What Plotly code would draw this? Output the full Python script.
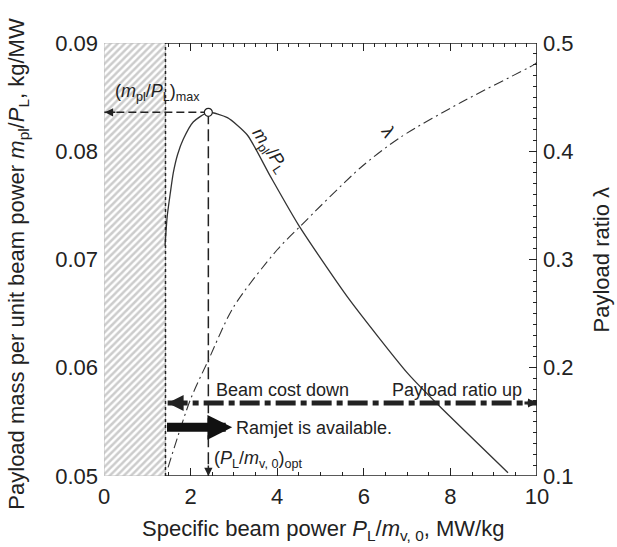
import numpy as np
import plotly.graph_objects as go

# ---- data ----
x_limit = 1.42            # lower bound of usable specific beam power (hatched region)
opt_x = 2.41              # (P_L/m_v,0)_opt
max_ratio = 0.0836        # (m_pl/P_L)_max

mpl_x = [1.41, 1.46, 1.53, 1.60, 1.70, 1.83, 2.06, 2.41, 2.85, 3.31, 3.84, 4.49, 5.63, 7.01, 7.71, 9.33]
mpl_y = [0.0713, 0.0740, 0.0761, 0.0780, 0.0797, 0.0811, 0.0827, 0.0836, 0.0831, 0.0815, 0.0777,
         0.0732, 0.0665, 0.0595, 0.0566, 0.0503]

lam_x = [1.48, 1.99, 2.41, 2.99, 4.00, 4.54, 5.93, 6.85, 8.24, 9.93, 10.0]
lam_y = [0.108, 0.170, 0.207, 0.256, 0.309, 0.331, 0.385, 0.413, 0.445, 0.480, 0.482]

x_ticks = [0, 2, 4, 6, 8, 10]
y_ticks = [0.05, 0.06, 0.07, 0.08, 0.09]
y2_ticks = [0.1, 0.2, 0.3, 0.4, 0.5]
x_range = [0, 10]
y_range = [0.05, 0.09]
y2_range = [0.1, 0.5]

FONT = "Liberation Sans, Arial, sans-serif"
TXT = "#222"

fig = go.Figure()

# hatched (infeasible) region
fig.add_trace(go.Scatter(
    x=[x_range[0], x_limit, x_limit, x_range[0], x_range[0]],
    y=[y_range[0], y_range[0], y_range[1], y_range[1], y_range[0]],
    mode="lines", fill="toself", fillcolor="white",
    fillpattern=dict(shape="/", size=5, solidity=0.5, fgcolor="#9a9a9a", bgcolor="white"),
    line=dict(color="#bdbdbd", width=1), hoverinfo="skip", showlegend=False))

# m_pl / P_L curve
fig.add_trace(go.Scatter(x=mpl_x, y=mpl_y, mode="lines",
                         line=dict(color="#333", width=1.3, shape="spline", smoothing=0.6),
                         showlegend=False))

# lambda curve (right axis)
fig.add_trace(go.Scatter(x=lam_x, y=lam_y, mode="lines", yaxis="y2",
                         line=dict(color="#333", width=1.1, shape="spline", smoothing=0.8,
                                   dash="10px,4px,2px,4px"),
                         showlegend=False))

# dashed guide lines from the maximum
fig.add_trace(go.Scatter(x=[opt_x, x_range[0]], y=[max_ratio, max_ratio], mode="lines",
                         line=dict(color="#222", width=1.5, dash="8px,4px"), showlegend=False))
fig.add_trace(go.Scatter(x=[opt_x, opt_x], y=[max_ratio, y_range[0]], mode="lines",
                         line=dict(color="#222", width=1.5, dash="12px,5px"), showlegend=False))

# double headed dash-dot arrow
arrow_y = 0.05674
fig.add_trace(go.Scatter(x=[x_limit + 0.05, x_range[1]], y=[arrow_y, arrow_y], mode="lines",
                         line=dict(color="#222", width=5, dash="20px,5px,6px,5px"),
                         showlegend=False))

# left dotted frame edge
fig.add_trace(go.Scatter(x=[x_limit, x_limit], y=y_range, mode="lines",
                         line=dict(color="#222", width=1.5, dash="dot"), showlegend=False))

# peak marker
fig.add_trace(go.Scatter(x=[opt_x], y=[max_ratio], mode="markers",
                         marker=dict(symbol="circle", size=8, color="white",
                                     line=dict(color="#222", width=1.2)),
                         showlegend=False))

# invisible trace for top axis
fig.add_trace(go.Scatter(x=[5], y=[0.07], xaxis="x2", mode="markers",
                         marker=dict(opacity=0), hoverinfo="skip", showlegend=False))

# frame lines
shapes = [
    dict(type="line", xref="x", yref="y", x0=x_limit, x1=x_range[1], y0=y_range[0], y1=y_range[0],
         line=dict(color="#222", width=1.6), layer="above"),
    dict(type="line", xref="x", yref="y", x0=x_limit, x1=x_range[1], y0=y_range[1], y1=y_range[1],
         line=dict(color="#222", width=1.6), layer="above"),
    dict(type="line", xref="x", yref="y", x0=x_range[1], x1=x_range[1], y0=y_range[0], y1=y_range[1],
         line=dict(color="#222", width=1.6), layer="above"),
]

ann_font = dict(family=FONT, size=18, color=TXT)
title_font = dict(family=FONT, size=22, color=TXT)
annotations = [
    # arrowheads
    dict(x=x_range[0] + 0.02, y=max_ratio, ax=12, ay=0, text="", showarrow=True,
         arrowhead=2, arrowwidth=1.5, arrowsize=1.1, arrowcolor="#222"),
    dict(x=opt_x, y=y_range[0], ax=0, ay=-12, text="", showarrow=True,
         arrowhead=2, arrowwidth=1.5, arrowsize=1.1, arrowcolor="#222"),
    dict(x=x_limit + 0.05, y=arrow_y, ax=16, ay=0, text="", showarrow=True,
         arrowhead=2, arrowwidth=4, arrowsize=0.8, arrowcolor="#222"),
    dict(x=x_range[1], y=arrow_y, ax=-14, ay=0, text="", showarrow=True,
         arrowhead=2, arrowwidth=3, arrowsize=0.6, arrowcolor="#222"),
    # ramjet arrow
    dict(x=2.96, y=0.0545, ax=x_limit, ay=0.0545, axref="x", ayref="y", text="", showarrow=True,
         arrowhead=2, arrowwidth=9, arrowsize=0.55, arrowcolor="#111"),
    # texts
    dict(x=0.21, y=0.0854, text="(<i>m</i><sub>pl</sub>/<i>P</i><sub>L</sub>)<sub>max</sub>",
         showarrow=False, xanchor="left", yanchor="middle", font=ann_font),
    dict(x=3.82, y=0.0801, text="<i>m</i><sub>pl</sub>/<i>P</i><sub>L</sub>", textangle=56,
         showarrow=False, font=ann_font),
    dict(x=6.57, y=0.0818, text="λ", textangle=60, showarrow=False, font=ann_font),
    dict(x=4.12, y=0.0579, text="Beam cost down", showarrow=False, font=ann_font),
    dict(x=8.15, y=0.0579, text="Payload ratio up", showarrow=False, font=ann_font),
    dict(x=3.0, y=0.0544, text="Ramjet is available.", showarrow=False, xanchor="left",
         font=ann_font),
    dict(x=2.5, y=0.0515, text="(<i>P</i><sub>L</sub>/<i>m</i><sub>v, 0</sub>)<sub>opt</sub>",
         showarrow=False, xanchor="left", font=ann_font),
    # axis titles
    dict(xref="paper", yref="paper", x=-0.199, y=0.49, textangle=-90,
         text="Payload mass per unit beam power <i>m</i><sub>pl</sub>/<i>P</i><sub>L</sub>, kg/MW",
         showarrow=False, xanchor="center", yanchor="middle", font=title_font),
    dict(xref="paper", yref="paper", x=1.150, y=0.5, textangle=-90,
         text="Payload ratio λ", showarrow=False, xanchor="center", yanchor="middle",
         font=title_font),
    dict(xref="paper", yref="paper", x=0.505, y=-0.125,
         text="Specific beam power <i>P</i><sub>L</sub>/<i>m</i><sub>v, 0</sub>, MW/kg",
         showarrow=False, xanchor="center", yanchor="middle", font=title_font),
]

tickfont = dict(family=FONT, size=22, color=TXT)
fig.update_layout(
    width=617, height=547,
    margin=dict(l=104, r=80, t=43, b=71),
    paper_bgcolor="white", plot_bgcolor="white",
    showlegend=False,
    xaxis=dict(range=x_range, tickvals=x_ticks, showline=False, showgrid=False, zeroline=False,
               ticks="inside", ticklen=8, tickwidth=1.3, tickcolor="#222", tickfont=tickfont,
               layer="below traces", ticklabelstandoff=5,
               minor=dict(dtick=0.5, ticks="inside", ticklen=4, tickwidth=1.2, tickcolor="#222")),
    xaxis2=dict(range=x_range, overlaying="x", side="top", anchor="y", showticklabels=False,
                showline=False, showgrid=False, zeroline=False,
                tickmode="array", tickvals=[2, 4, 6, 8], ticks="inside", ticklen=8, tickwidth=1.3,
                tickcolor="#222",
                minor=dict(tickmode="array", tickvals=list(np.arange(1.5, 10.0, 0.25)),
                           ticks="inside", ticklen=4, tickwidth=1.2, tickcolor="#222")),
    yaxis=dict(range=y_range, tickvals=y_ticks, ticktext=[f"{v:.2f}" for v in y_ticks],
               showline=False, showgrid=False, zeroline=False, ticks="", tickfont=tickfont,
               ticklabelstandoff=5),
    yaxis2=dict(range=y2_range, overlaying="y", side="right", tickvals=y2_ticks,
                ticktext=[f"{v:.1f}" for v in y2_ticks],
                showline=False, showgrid=False, zeroline=False, ticks="inside", ticklen=8,
                tickwidth=1.3, tickcolor="#222", tickfont=tickfont, ticklabelstandoff=5,
                minor=dict(dtick=0.01, ticks="inside", ticklen=4, tickwidth=1.2, tickcolor="#222")),
    shapes=shapes,
    annotations=annotations,
)

fig.write_html("out.html")
